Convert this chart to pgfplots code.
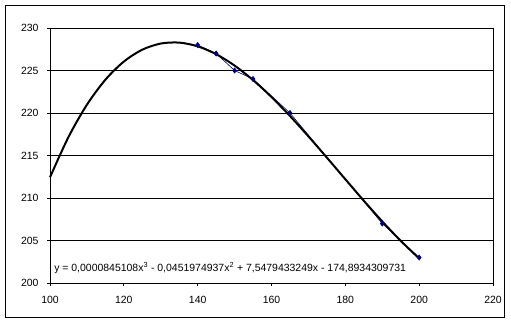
\documentclass[border=0pt]{standalone}
\usepackage{pgfplots}
\pgfplotsset{compat=1.18}
\usepackage{fontspec}
\setmainfont{Liberation Sans}
\definecolor{navy}{RGB}{0,0,128}
\begin{document}
\begin{tikzpicture}[x=1bp,y=1bp]
\useasboundingbox (-50,-40) rectangle (461,283);
\begin{axis}[
  at={(0,0)}, anchor=south west,
  scale only axis, width=443bp, height=255bp,
  xmin=100, xmax=220, ymin=200, ymax=230,
  xtick={100,120,...,220}, ytick={200,205,...,230},
  ymajorgrids, major grid style={black, line width=0.8bp},
  axis line style={black, line width=0.8bp},
  tick align=outside, major tick length=3bp,
  tick style={black, line width=0.8bp},
  xtick pos=bottom, ytick pos=left,
  ticklabel style={font=\fontsize{10.5}{12}\selectfont},
  /pgf/number format/assume math mode=true,
  xticklabel style={yshift=-6.5bp},
  yticklabel style={xshift=-5bp},
  clip=false,
]
\addplot[navy, line width=0.6bp, mark=diamond*, mark size=2.6bp, mark options={fill=navy, draw=navy}]
  coordinates {(140,228) (145,227) (150,225) (155,224) (165,220) (190,207) (200,203)};
\addplot[black, line width=2bp, smooth]
  coordinates {
  (100,212.437) (105,217.170) (110,220.975) (115,223.914) (120,226.051)
  (125,227.449) (130,228.172) (135,228.283) (140,227.845) (145,226.923)
  (150,225.579) (155,223.876) (160,221.878) (165,219.649) (170,217.251)
  (175,214.749) (180,212.205) (185,209.683) (190,207.246) (195,204.958)
  (200,202.882)};
\node[anchor=west, inner sep=0pt, font=\fontsize{10.5}{12}\selectfont] at (axis cs:101.1,201.8)
  {y = 0,0000845108x\textsuperscript{3} - 0,0451974937x\textsuperscript{2} + 7,5479433249x - 174,8934309731};
\end{axis}
\draw[black, line width=0.8bp] (-45,-34) rectangle (454,278);
\end{tikzpicture}
\end{document}
